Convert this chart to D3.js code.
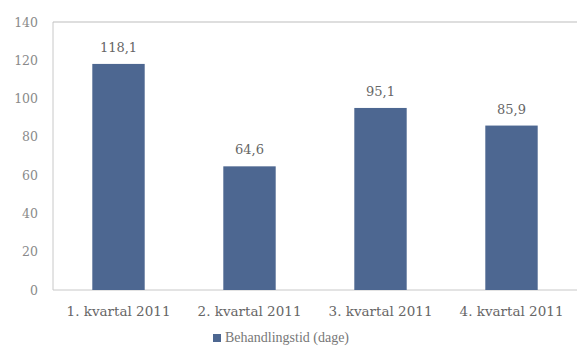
<!DOCTYPE html>
<html lang="da">
<head>
<meta charset="UTF-8">
<title>Behandlingstid</title>
<script src="https://d3js.org/d3.v7.min.js"></script>
<style>
  body { margin: 0; background: #fff; }
  text { font-family: 'DejaVu Serif', 'Liberation Serif', serif; }
</style>
</head>
<body>
<script>
  const width = 577, height = 351;

  const categories = ["1. kvartal 2011", "2. kvartal 2011", "3. kvartal 2011", "4. kvartal 2011"];
  const values = [118.1, 64.6, 95.1, 85.9];
  const yTicks = [0, 20, 40, 60, 80, 100, 120, 140];
  const seriesName = "Behandlingstid (dage)";

  const margin = {top: 22, right: 0, bottom: 61, left: 53};
  const barColor = "#4d6791";

  const svg = d3.select("body").append("svg")
      .attr("width", width).attr("height", height);

  const x = d3.scaleBand()
      .domain(categories)
      .range([margin.left, width - margin.right])
      .paddingInner(0.6)
      .paddingOuter(0.3);

  const y = d3.scaleLinear()
      .domain([0, 140])
      .range([height - margin.bottom, margin.top]);

  // frame lines: left axis, baseline, top
  svg.append("line")
      .attr("x1", margin.left).attr("x2", margin.left)
      .attr("y1", y(140)).attr("y2", y(0))
      .attr("stroke", "#c8c8c8");
  svg.append("line")
      .attr("x1", margin.left).attr("x2", width)
      .attr("y1", y(0)).attr("y2", y(0))
      .attr("stroke", "#c8c8c8");
  svg.append("line")
      .attr("x1", margin.left).attr("x2", width)
      .attr("y1", y(140)).attr("y2", y(140))
      .attr("stroke", "#bdbdbd");

  const yAxis = svg.append("g")
      .attr("transform", `translate(${margin.left},0)`)
      .call(d3.axisLeft(y).tickValues(yTicks).tickSize(0).tickPadding(15));
  yAxis.select(".domain").remove();
  yAxis.selectAll("text")
      .attr("fill", "#8a8a8a")
      .style("font-family", "'DejaVu Serif', serif")
      .style("font-size", "12.5px");

  svg.selectAll("rect.bar")
      .data(values)
      .join("rect")
      .attr("class", "bar")
      .attr("x", (d, i) => x(categories[i]))
      .attr("y", d => y(d))
      .attr("width", x.bandwidth())
      .attr("height", d => y(0) - y(d))
      .attr("fill", barColor);

  svg.selectAll("text.val")
      .data(values)
      .join("text")
      .attr("class", "val")
      .attr("x", (d, i) => x(categories[i]) + x.bandwidth() / 2)
      .attr("y", d => y(d) - 12)
      .attr("text-anchor", "middle")
      .attr("fill", "#666")
      .style("font-size", "13px")
      .text(d => d.toFixed(1).replace(".", ","));

  const xAxis = svg.append("g")
      .attr("transform", `translate(0,${y(0)})`)
      .call(d3.axisBottom(x).tickSize(0).tickPadding(16));
  xAxis.select(".domain").remove();
  xAxis.selectAll("text")
      .attr("fill", "#666")
      .style("font-family", "'DejaVu Serif', serif")
      .style("font-size", "13.5px");

  // legend
  const legend = svg.append("g").attr("transform", "translate(213,342)");
  legend.append("rect")
      .attr("x", 0).attr("y", -8)
      .attr("width", 8).attr("height", 8)
      .attr("fill", barColor);
  legend.append("text")
      .attr("x", 12).attr("y", 0)
      .attr("fill", "#777")
      .style("font-family", "'Liberation Serif', serif")
      .style("font-size", "14px")
      .text(seriesName);
</script>
</body>
</html>
